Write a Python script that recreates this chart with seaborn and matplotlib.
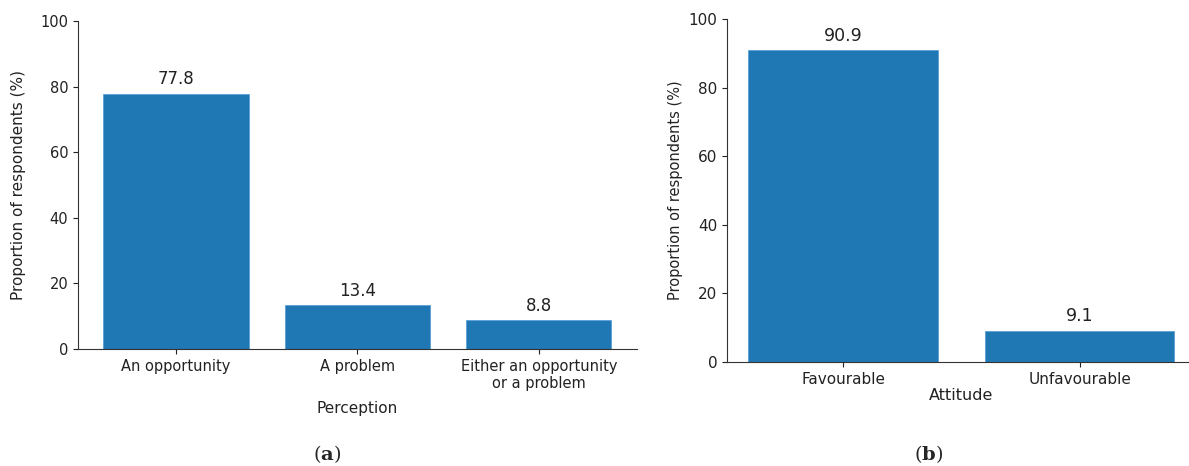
import matplotlib
matplotlib.use("Agg")
import matplotlib.pyplot as plt
import seaborn as sns

perception_cats = ["An opportunity", "A problem", "Either an opportunity\nor a problem"]
perception_vals = [77.8, 13.4, 8.8]
attitude_cats = ["Favourable", "Unfavourable"]
attitude_vals = [90.9, 9.1]
yticks = [0, 20, 40, 60, 80, 100]

sns.set_style("ticks")
plt.rcParams['font.family'] = ['DejaVu Sans']
plt.rcParams['mathtext.fontset'] = 'dejavuserif'

BLUE = "#1f77b4"
TXT = "#222222"
fig = plt.figure(figsize=(11.89, 4.66), dpi=100)

ax1 = fig.add_axes([0.0656, 0.251, 0.470, 0.704])
sns.barplot(x=perception_cats, y=perception_vals, ax=ax1, color=BLUE,
            saturation=1, width=0.8, edgecolor="#5aa0d8", linewidth=0.6)
ax1.set_xlim(-0.54, 2.54)
ax1.set_ylim(0, 100)
ax1.set_yticks(yticks)
ax1.tick_params(labelsize=10.5, colors=TXT)
ax1.set_ylabel("Proportion of respondents (%)", fontsize=11, color=TXT, labelpad=10)
ax1.set_xlabel("Perception", fontsize=11, color=TXT, labelpad=7)
ax1.bar_label(ax1.containers[0], fmt="%.1f", padding=4, fontsize=12, color=TXT)
sns.despine(ax=ax1)

ax2 = fig.add_axes([0.6115, 0.223, 0.394, 0.736])
sns.barplot(x=attitude_cats, y=attitude_vals, ax=ax2, color=BLUE,
            saturation=1, width=0.8, edgecolor="#5aa0d8", linewidth=0.6)
ax2.set_xlim(-0.49, 1.49)
ax2.set_ylim(0, 100)
ax2.set_yticks(yticks)
ax2.tick_params(labelsize=11, colors=TXT)
ax2.set_ylabel("Proportion of respondents (%)", fontsize=10.5, color=TXT)
ax2.set_xlabel("Attitude", fontsize=11.5, color=TXT, labelpad=1)
ax2.bar_label(ax2.containers[0], fmt="%.1f", padding=4, fontsize=12.5, color=TXT)
sns.despine(ax=ax2)

for ax in (ax1, ax2):
    for s in ("left", "bottom"):
        ax.spines[s].set_color("#333333")

fig.text(327 / 1189, 1 - 454 / 466, r"($\mathbf{a}$)", ha="center", va="center", fontsize=14, family="serif")
fig.text(929 / 1189, 1 - 454 / 466, r"($\mathbf{b}$)", ha="center", va="center", fontsize=14, family="serif")

fig.savefig("out.png", dpi=100)
